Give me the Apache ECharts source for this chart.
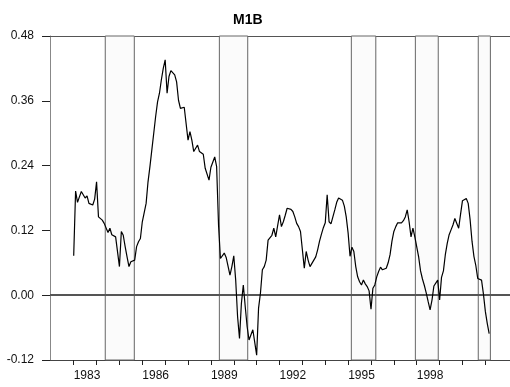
<!DOCTYPE html>
<html>
<head>
<meta charset="utf-8">
<script src="https://cdn.jsdelivr.net/npm/echarts@6/dist/echarts.min.js"></script>
<style>
html,body{margin:0;padding:0;background:#fff;}
#chart{width:510px;height:387px;}
</style>
</head>
<body>
<div id="chart"></div>
<script>
// ---- data (monthly, starting 1983:01) ----
const title = "M1B";
const startYear = 1983;
const m1b = [
 0.073,0.193,0.172,0.182,0.192,0.189,0.180,0.184,0.170,0.167,0.167,0.178,
 0.210,0.145,0.146,0.139,0.133,0.136,0.116,0.124,0.112,0.111,0.108,0.105,
 0.053,0.118,0.111,0.090,0.071,0.053,0.062,0.060,0.065,0.090,0.099,0.105,
 0.136,0.136,0.170,0.210,0.238,0.269,0.300,0.331,0.358,0.374,0.399,0.420,
 0.436,0.374,0.405,0.416,0.418,0.408,0.395,0.361,0.346,0.348,0.348,0.346,
 0.287,0.303,0.287,0.266,0.272,0.278,0.266,0.263,0.261,0.235,0.237,0.213,
 0.237,0.237,0.256,0.238,0.130,0.068,0.071,0.078,0.070,0.070,0.037,0.053,
 0.073,0.028,-0.040,-0.080,-0.015,0.019,-0.021,-0.058,-0.083,-0.086,-0.064,-0.066,
 -0.111,-0.024,0.004,0.047,0.053,0.065,0.102,0.105,0.111,0.124,0.108,0.108,
 0.149,0.127,0.136,0.148,0.161,0.164,0.159,0.155,0.145,0.133,0.127,0.118,
 0.118,0.050,0.081,0.065,0.053,0.052,0.065,0.071,0.084,0.100,0.113,0.125,
 0.134,0.186,0.136,0.132,0.145,0.158,0.172,0.180,0.181,0.176,0.165,0.145,
 0.115,0.072,0.089,0.081,0.053,0.034,0.025,0.019,0.028,0.021,0.016,0.008,
 -0.026,0.013,0.019,0.034,0.044,0.052,0.047,0.044,0.050,0.060,0.075,0.100,
 0.118,0.127,0.134,0.133,0.134,0.138,0.145,0.158,0.136,0.108,0.124,0.108,
 0.107,0.071,0.045,0.030,0.018,0.004,-0.012,-0.027,-0.009,0.017,0.019,0.028,
 -0.009,0.033,0.045,0.075,0.096,0.112,0.121,0.130,0.142,0.139,0.124,0.150,
 0.175,0.176,0.179,0.170,0.140,0.100,0.072,0.055,0.031,0.028,0.028,0.002,
 -0.030,-0.052,-0.071
];
const bandStarts = [1984.38, 1989.37, 1995.14, 1997.94, 2000.69];
const bandEnds   = [1985.65, 1990.61, 1996.21, 1998.94, 2001.22];
const xTickYears  = [1983,1984,1985,1986,1987,1988,1989,1990,1991,1992,1993,1994,1995,1996,1997,1998,1999,2000,2001];
const xLabelYears = [1983,1986,1989,1992,1995,1998];
const yMin = -0.12, yMax = 0.48, yStep = 0.12;
const xMin = 1981.964, xMax = 2002.078;

const seriesData = m1b.map((v, i) => [startYear + i / 12, v]);
const bands = bandStarts.map((s, i) => [{ xAxis: s }, { xAxis: bandEnds[i] }]);

const chart = echarts.init(document.getElementById('chart'), null, { renderer: 'canvas' });
chart.setOption({
  animation: false,
  backgroundColor: '#fff',
  graphic: [{
    type: 'text', left: 233, top: 13,
    style: { text: title, font: 'bold 14px "Liberation Sans", Arial, sans-serif', fill: '#000' }
  }],
  grid: { left: 50, right: 0, top: 36, bottom: 27, containLabel: false },
  xAxis: [{
    type: 'value', min: xMin, max: xMax, position: 'bottom',
    axisLine: { show: true, onZero: false, lineStyle: { color: '#444', width: 1 } },
    axisTick: { show: true, inside: false, length: 5, customValues: xTickYears, lineStyle: { color: '#222', width: 1 } },
    axisLabel: { show: true, customValues: xLabelYears, align: 'left', margin: 10,
      formatter: v => String(Math.round(v)), color: '#111',
      fontFamily: '"Liberation Sans Narrow", "Liberation Sans", Arial, sans-serif', fontSize: 12 },
    splitLine: { show: false }
  }, {
    type: 'value', min: xMin, max: xMax, position: 'top',
    axisLine: { show: true, onZero: false, lineStyle: { color: '#555', width: 1 } },
    axisTick: { show: false }, axisLabel: { show: false }, splitLine: { show: false }
  }],
  yAxis: {
    type: 'value', min: yMin, max: yMax, interval: yStep,
    axisLine: { show: true, onZero: false, lineStyle: { color: '#888', width: 1 } },
    axisTick: { show: true, inside: false, length: 8, lineStyle: { color: '#222', width: 1 } },
    axisLabel: { formatter: v => v.toFixed(2), margin: 16, color: '#111',
      fontFamily: '"Liberation Sans Narrow", "Liberation Sans", Arial, sans-serif', fontSize: 12 },
    splitLine: { show: false }
  },
  series: [{
    type: 'line',
    data: seriesData,
    showSymbol: false,
    symbol: 'none',
    lineStyle: { color: '#000', width: 1.2 },
    z: 5,
    markArea: {
      silent: true,
      itemStyle: { color: '#fbfbfb', borderColor: '#666', borderWidth: 1 },
      data: bands
    },
    markLine: {
      silent: true, symbol: 'none',
      lineStyle: { color: '#555', width: 2, type: 'solid' },
      label: { show: false },
      data: [{ yAxis: 0 }]
    }
  }]
});
</script>
</body>
</html>
